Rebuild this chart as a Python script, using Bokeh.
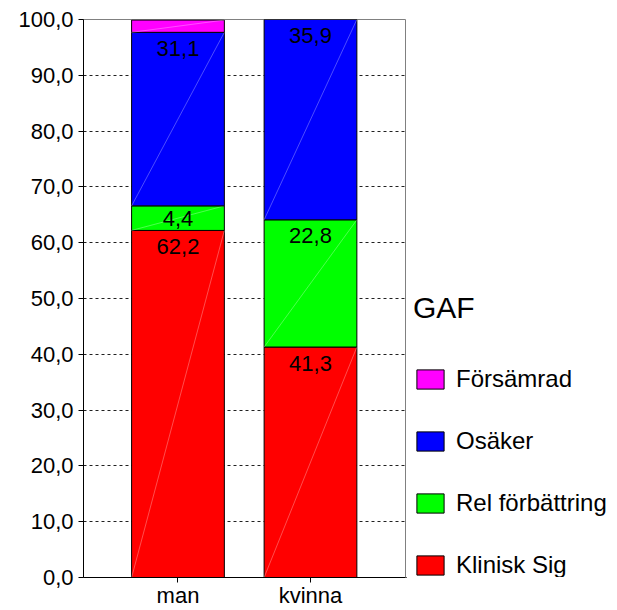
from bokeh.plotting import figure
from bokeh.layouts import row
from bokeh.models import Range1d, Legend, LegendItem, ColumnDataSource, FixedTicker
from bokeh.embed import file_html
from bokeh.resources import INLINE
from bokeh.core.properties import value

# Percentages per GAF outcome, by sex
groups = ["man", "kvinna"]
series = ["Klinisk Sig", "Rel förbättring", "Osäker", "Försämrad"]
klinisk_sig = [62.2, 41.3]
rel_forbattring = [4.4, 22.8]
osaker = [31.1, 35.9]
forsamrad = [2.2, 0.0]
colors = ["#FF0000", "#00FF00", "#0000FF", "#FF00FF"]
y_ticks = list(range(0, 101, 10))

FONT = "Liberation Sans"
values = [klinisk_sig, rel_forbattring, osaker, forsamrad]
xs = list(range(1, len(groups) + 1))
bar_w = 0.70

FRAME_H = 610 - 19 - 32          # plot frame height in pixels
LABEL_DROP = 16 * 100 / FRAME_H  # label centre sits 16 px under a segment top

p = figure(width=406, height=610,
           x_range=Range1d(0.287, 2.717), y_range=Range1d(0, 100),
           output_backend="svg", toolbar_location=None,
           min_border_left=83, min_border_top=19,
           min_border_bottom=32, min_border_right=1)

p.background_fill_color = "white"
p.border_fill_color = "white"
p.outline_line_color = "#808080"
p.outline_line_width = 1

# Gridlines
p.xgrid.grid_line_color = None
p.ygrid.ticker = FixedTicker(ticks=y_ticks)
p.ygrid.grid_line_color = "#202020"
p.ygrid.grid_line_dash = "3 3"
p.ygrid.grid_line_width = 1

# Axes
p.yaxis.ticker = FixedTicker(ticks=y_ticks)
p.yaxis.major_label_overrides = {t: f"{t:.1f}".replace(".", ",") for t in y_ticks}
p.xaxis.ticker = FixedTicker(ticks=xs)
p.xaxis.major_label_overrides = {x: g for x, g in zip(xs, groups)}
for ax in (p.xaxis, p.yaxis):
    ax.axis_line_color = "black"
    ax.axis_line_width = 1
    ax.major_tick_in = 0
    ax.major_tick_out = 5
    ax.major_tick_line_color = "black"
    ax.minor_tick_line_color = None
    ax.major_label_text_font = FONT
    ax.major_label_text_color = "black"
    ax.major_label_text_font_size = "22px"
p.yaxis.major_label_standoff = 5
p.xaxis.major_label_standoff = 0

# Stacked segments
bottoms = [0.0] * len(groups)
for name, vals, col in zip(series, values, colors):
    tops = [b + v for b, v in zip(bottoms, vals)]
    src = ColumnDataSource(dict(
        x=xs, bottom=bottoms, top=tops,
        x0=[x - bar_w / 2 for x in xs], x1=[x + bar_w / 2 for x in xs],
    ))
    p.vbar(x="x", bottom="bottom", top="top", width=bar_w, source=src,
           fill_color=col, line_color="black", line_width=1)
    # faint diagonal highlight across each segment
    p.segment(x0="x0", y0="bottom", x1="x1", y1="top", source=src,
              line_color="white", line_alpha=0.3, line_width=1)

    # value labels near the segment top (centred when the segment is thin)
    lab = [(x, max(t - LABEL_DROP, (b + t) / 2), f"{v:.1f}".replace(".", ","))
           for x, b, t, v in zip(xs, bottoms, tops, vals) if v >= 3]
    if lab:
        p.text(x=[l[0] for l in lab], y=[l[1] for l in lab], text=[l[2] for l in lab],
               text_align="center", text_baseline="middle",
               text_font=value(FONT), text_font_size="22px", text_color="black")
    bottoms = tops

# Legend panel beside the chart
lg = figure(width=211, height=610, x_range=Range1d(0, 1), y_range=Range1d(0, 1),
            output_backend="svg", toolbar_location=None,
            min_border=0)
lg.axis.visible = False
lg.grid.visible = False
lg.outline_line_color = None

items = []
for name, col in zip(series, colors):
    # swatch renderer kept outside the visible range
    r = lg.vbar(x=[-10], bottom=[0], top=[0], width=1,
                fill_color=col, line_color="black", line_width=1)
    items.append(LegendItem(label=name, renderers=[r]))

legend = Legend(
    items=list(reversed(items)),
    title="GAF", title_text_font=FONT, title_text_font_size="30px",
    title_text_font_style="normal", title_text_color="black", title_standoff=40,
    label_text_font=FONT, label_text_font_size="24px", label_text_color="black",
    glyph_width=34, glyph_height=24, label_height=24, label_standoff=9,
    spacing=34, padding=0, margin=0,
    border_line_color=None, background_fill_alpha=0,
    location=(7, -2),
)
lg.add_layout(legend)

open("out.html", "w").write(file_html(row(p, lg), INLINE))
